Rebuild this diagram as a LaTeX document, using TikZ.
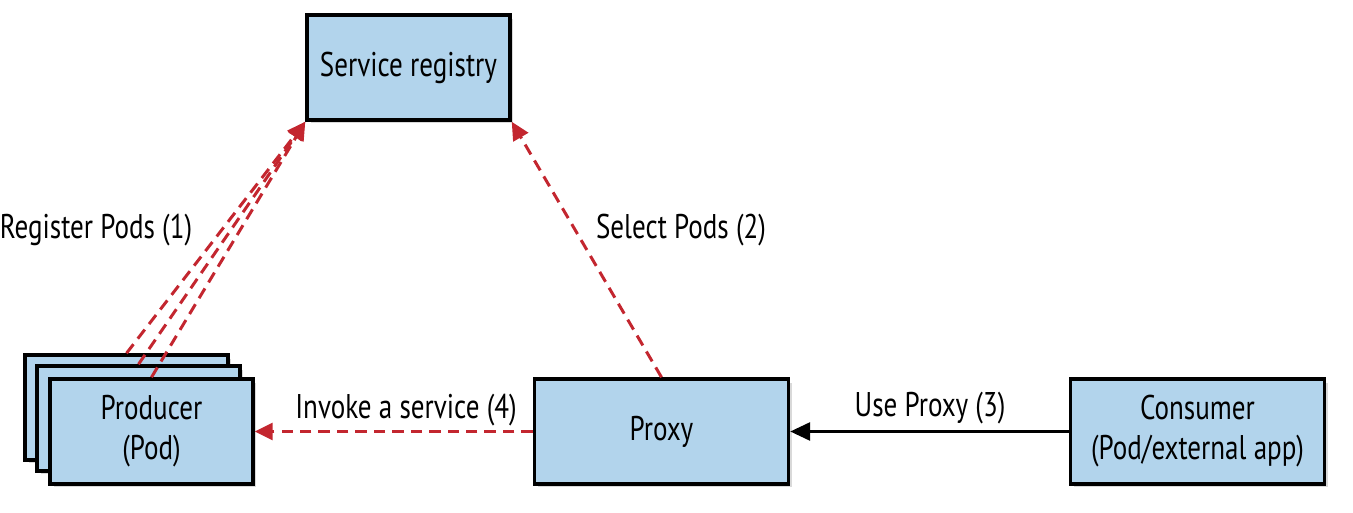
\documentclass[tikz,border=0pt]{standalone}
\usepackage{fontspec}
\setmainfont[FakeStretch=0.79]{PT Sans}
\usetikzlibrary{arrows.meta,shadows}

\definecolor{podblue}{HTML}{B2D4EC}
\definecolor{linkred}{HTML}{C3262F}

\tikzset{
  box/.style={draw=black, line width=2pt, fill=podblue, minimum width=#1,
    minimum height=2.1cm, inner sep=0pt, align=center,
    font=\fontsize{19.5}{22.7}\selectfont,
    drop shadow={shadow xshift=0.07cm, shadow yshift=-0.07cm, opacity=0.3}},
  box/.default=4.06cm,
  lbl/.style={font=\fontsize{19.5}{22.7}\selectfont, inner sep=0pt},
  call/.style={draw=linkred, line width=1.7pt, dash pattern=on 6.5pt off 4pt,
    -{Triangle[length=0.36cm, width=0.34cm]}},
  use/.style={draw=black, line width=1.7pt, -{Triangle[length=0.4cm, width=0.36cm]}}
}

\begin{document}
\begin{tikzpicture}[x=0.02cm, y=-0.02cm]
	\useasboundingbox (0,0) rectangle (1353,513);
	% boxes
	\node[box] (registry) at (408.5,67.5) {Service registry};
	\node[box] (podback) at (126.5,407.5) {};
	\node[box] (podmid) at (138.5,418.5) {};
	\node[box] (producer) at (151.5,431.5) {Producer\\(Pod)};
	\node[box=5.08cm] (proxy) at (661.5,431.5) {Proxy};
	\node[box=5.08cm] (consumer) at (1197.5,431.5) {Consumer\\(Pod/external app)};
	% connectors
	\draw[call] (podback.north) -- (registry.south west);
	\draw[call] (podmid.north) -- (registry.south west);
	\draw[call] (producer.north) -- (registry.south west);
	\draw[call] (proxy.north) -- (registry.south east);
	\draw[call] (proxy.west) -- (producer.east);
	\draw[use] (consumer.west) -- (proxy.east);
	% labels
	\node[lbl] (reglbl) at (96,230) {Register Pods (1)};
	\node[lbl] (sellbl) at (681,230) {Select Pods (2)};
	\node[lbl] (invlbl) at (406,410) {Invoke a service (4)};
	\node[lbl] (uselbl) at (930,408) {Use Proxy (3)};
\end{tikzpicture}
\end{document}
